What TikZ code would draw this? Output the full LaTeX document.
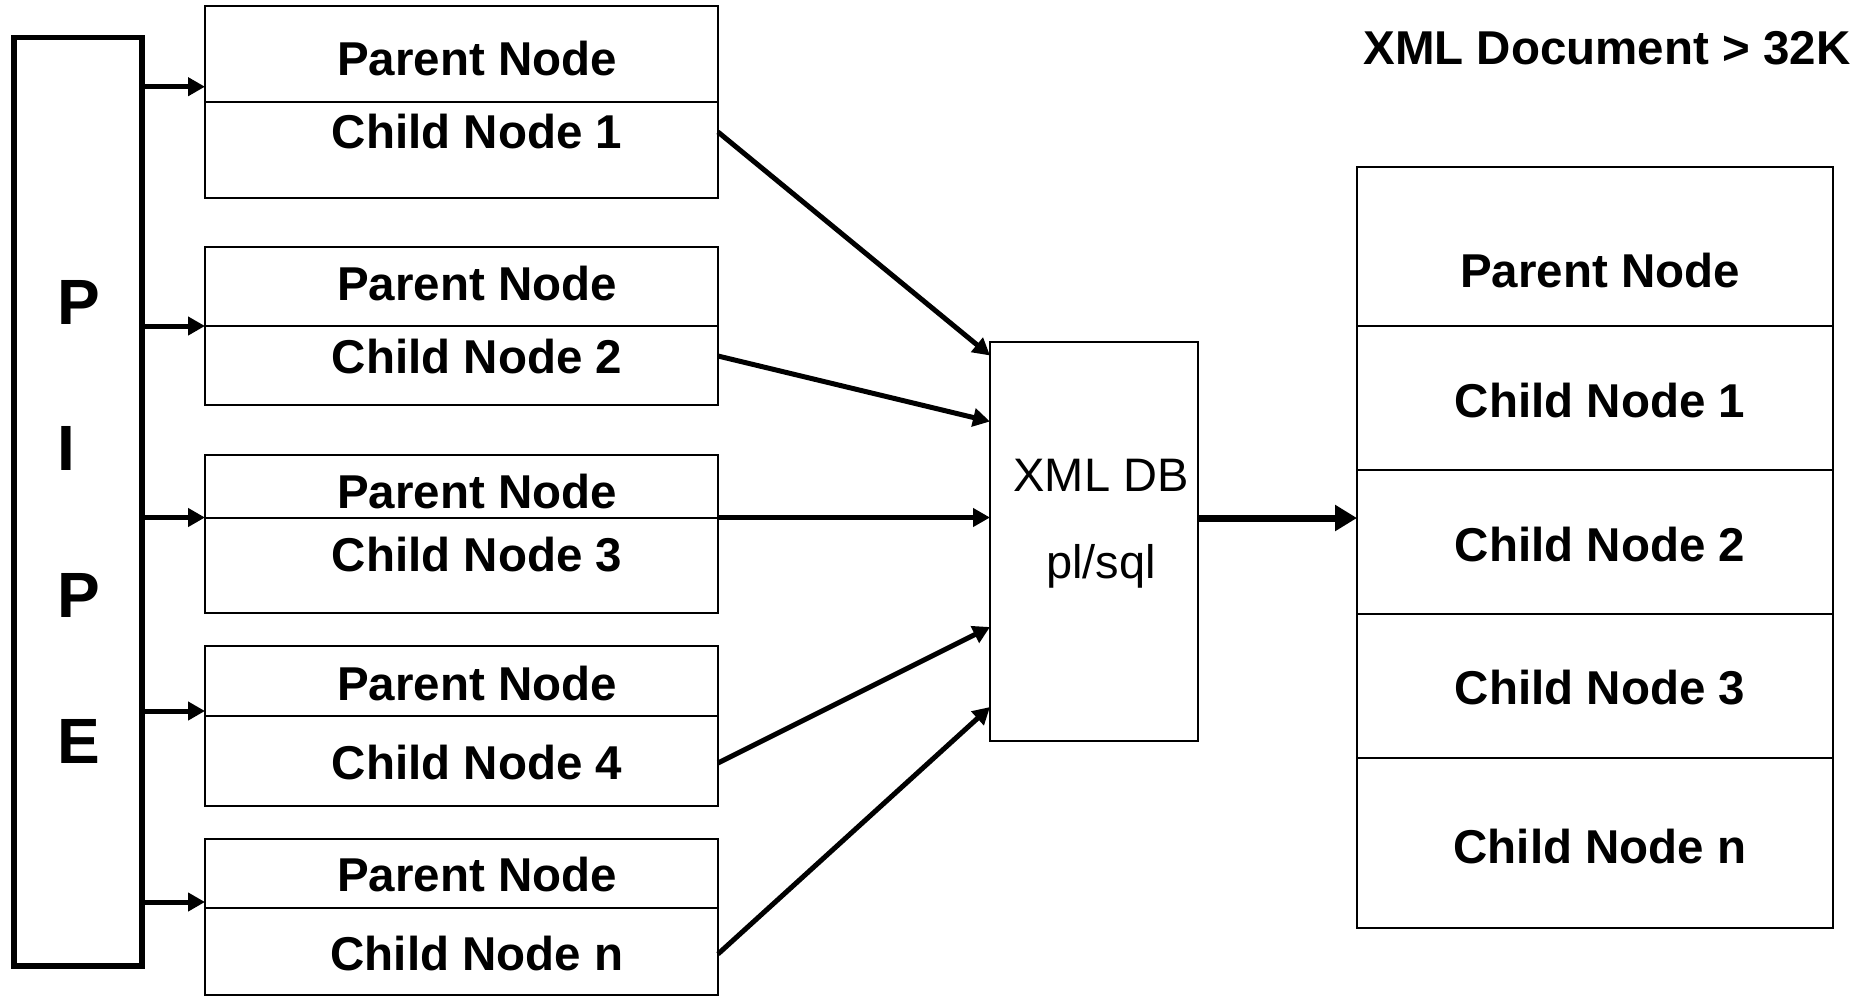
\documentclass[tikz,border=0pt]{standalone}
\usepackage{fontspec}
\setmainfont{Liberation Sans}
\usetikzlibrary{arrows.meta,calc}

\begin{document}
\begin{tikzpicture}[x=1pt,y=-1pt,
  cell/.style={draw,line width=2pt,inner sep=0pt,outer sep=0pt},
  pipebox/.style={draw,line width=5.5pt,inner sep=0pt,outer sep=0pt},
  lbl/.style={font=\fontsize{47.5pt}{50pt}\selectfont\bfseries,inner sep=0pt,anchor=base},
  dblbl/.style={font=\fontsize{47pt}{50pt}\selectfont,inner sep=0pt,anchor=base},
  pipelbl/.style={font=\fontsize{64pt}{66pt}\selectfont\bfseries,inner sep=0pt,anchor=base west},
  feed/.style={line width=5pt,-{Triangle[length=17pt,width=18pt]}},
  flow/.style={line width=7pt,-{Triangle[length=22pt,width=25pt]}}
]
\useasboundingbox (0,0) rectangle (1868,997);

% PIPE column
\node[pipebox,minimum width=127.8pt,minimum height=928.3pt] (pipe) at (77.9,501.85) {};
\node[pipelbl] (pP1) at (57,324) {P};
\node[pipelbl] (pI)  at (57,470) {I};
\node[pipelbl] (pP2) at (57,617) {P};
\node[pipelbl] (pE)  at (57,763) {E};

% parent/child record boxes fed by the pipe
\foreach \i/\t/\d/\b/\a/\pb/\cb/\lab in {
  1/6/101.7/197.7/86.7/75/148/1,
  2/246.7/326/405/326/300/373/2,
  3/455/517.5/613/517.5/508/571/3,
  4/646/716/806/711/700/779/4,
  5/838.5/908/995/902/891/970/n}{
  \pgfmathsetmacro\hp{\d-\t}
  \pgfmathsetmacro\hc{\b-\d}
  \pgfmathsetmacro\yp{(\t+\d)/2}
  \pgfmathsetmacro\yc{(\d+\b)/2}
  \node[cell,minimum width=513pt,minimum height=\hp pt] (b\i p) at (461.5,\yp) {};
  \node[cell,minimum width=513pt,minimum height=\hc pt] (b\i c) at (461.5,\yc) {};
  \node[lbl] (t\i p) at (477,\pb) {Parent Node};
  \node[lbl] (t\i c) at (477,\cb) {Child Node \lab};
  \coordinate (in\i) at (205,\a);
  \draw[feed] (pipe.east |- in\i) -- (in\i);
}

% XML DB processing box
\node[cell,minimum width=208pt,minimum height=399pt] (db) at (1094,541.5) {};
\node[dblbl] (dbt1) at (1101,491) {XML DB};
\node[dblbl] (dbt2) at (1101,578) {pl/sql};

% connectors from the child records into the database box
\coordinate (o1) at (718,132);   \coordinate (d1) at (990,355.5);
\coordinate (o2) at (718,356);   \coordinate (d2) at (990,421.5);
\coordinate (o3) at (718,517.5); \coordinate (d3) at (990,517.5);
\coordinate (o4) at (718,763);   \coordinate (d4) at (990,627);
\coordinate (o5) at (718,954);   \coordinate (d5) at (990,707);
\foreach \k in {1,...,5}{\draw[feed] (o\k) -- (d\k);}

% assembled document
\node[font=\fontsize{47.5pt}{50pt}\selectfont\bfseries,inner sep=0pt,anchor=base] (title) at (1607,64) {XML Document > 32K};
\foreach \j/\t/\b/\tb/\txt in {
  1/166.6/326/287/Parent Node,
  2/326/470/417/Child Node 1,
  3/470/614/561/Child Node 2,
  4/614/758/704/Child Node 3,
  5/758/928/863/Child Node n}{
  \pgfmathsetmacro\hh{\b-\t}
  \pgfmathsetmacro\yy{(\t+\b)/2}
  \node[cell,minimum width=476pt,minimum height=\hh pt] (r\j) at (1595,\yy) {};
  \node[lbl] (rt\j) at (1600,\tb) {\txt};
}

\coordinate (dbout) at (1198,518);
\draw[flow] (dbout) -- (r3.west |- dbout);
\end{tikzpicture}
\end{document}
